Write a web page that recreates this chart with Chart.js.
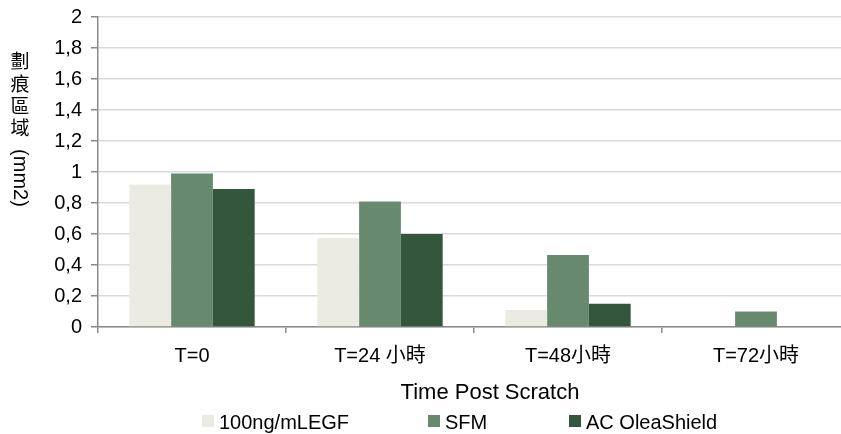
<!DOCTYPE html>
<html>
<head>
<meta charset="utf-8">
<script src="https://cdn.jsdelivr.net/npm/chart.js@4"></script>
<style>
    html, body { margin: 0; padding: 0; background: #fff; overflow: hidden; }
    .wrap { position: relative; width: 850px; height: 434px; }
    .legend { position: absolute; top: 410px; left: 0; font: 20px "Liberation Sans", Arial, sans-serif; color: #000; line-height: 24px; }
    .legend span.item { position: absolute; white-space: nowrap; display: flex; align-items: center; }
    .legend i { display: inline-block; width: 12px; height: 12px; margin-right: 5px; margin-top: -2px; }
</style>
</head>
<body>
<div class="wrap">
    <canvas id="woundChart" width="850" height="434"></canvas>
    <div class="legend" id="legend"></div>
</div>
<script>
// Data
const categories = ['T=0', 'T=24 小時', 'T=48小時', 'T=72小時'];
const seriesNames = ['100ng/mLEGF', 'SFM', 'AC OleaShield'];
const egfValues = [0.92, 0.575, 0.11, 0.005];
const sfmValues = [0.99, 0.81, 0.465, 0.10];
const oleaValues = [0.89, 0.60, 0.15, 0.005];
const yTickLabels = ['0', '0,2', '0,4', '0,6', '0,8', '1', '1,2', '1,4', '1,6', '1,8', '2'];
const seriesColors = ['#ecebe3', '#678a6e', '#34573b'];

const FONT = '"Liberation Sans", Arial, "Noto Sans CJK TC", sans-serif';

// Axis titles: CJK upright, "(mm2)" turned clockwise, like the source
const axisTitlePlugin = {
    id: 'axisTitles',
    afterDraw(chart) {
        const ctx = chart.ctx;
        ctx.save();
        ctx.fillStyle = '#000';
        ctx.font = '19px ' + FONT;
        ctx.textAlign = 'center';
        ctx.textBaseline = 'middle';
        const chars = ['劃', '痕', '區', '域'];
        const ys = [63, 86, 108, 130];
        chars.forEach((c, i) => ctx.fillText(c, 20, ys[i]));

        // x title
        ctx.font = '22px ' + FONT;
        ctx.fillText('Time Post Scratch', 490, 393);

        ctx.font = '20px ' + FONT;
        ctx.translate(20, 178);
        ctx.rotate(Math.PI / 2);
        ctx.fillText('(mm2)', 0, 0);
        ctx.restore();
    }
};

const ctx = document.getElementById('woundChart').getContext('2d');

new Chart(ctx, {
    type: 'bar',
    data: {
        labels: categories,
        datasets: [
            { label: seriesNames[0], data: egfValues, backgroundColor: seriesColors[0] },
            { label: seriesNames[1], data: sfmValues, backgroundColor: seriesColors[1] },
            { label: seriesNames[2], data: oleaValues, backgroundColor: seriesColors[2] }
        ]
    },
    options: {
        responsive: false,
        animation: false,
        layout: { padding: { top: 17, right: 0, bottom: 0, left: 0 } },
        datasets: {
            bar: { categoryPercentage: 0.667, barPercentage: 1, borderWidth: 0 }
        },
        scales: {
            x: {
                afterFit: s => { s.height = 107; },
                grid: {
                    offset: true,
                    drawOnChartArea: false,
                    tickLength: 6,
                    color: '#8a8a8a',
                    lineWidth: 1.5
                },
                border: { color: '#8a8a8a', width: 1.5 },
                ticks: {
                    color: '#000',
                    padding: 11,
                    font: { family: FONT, size: 20 }
                }
            },
            y: {
                min: 0,
                max: 2,
                afterFit: s => { s.width = 98; s.paddingTop = 0; },
                grid: {
                    color: '#dadada',
                    lineWidth: 1.5,
                    tickColor: '#8a8a8a',
                    tickLength: 7
                },
                border: { color: '#8a8a8a', width: 1.5 },
                ticks: {
                    stepSize: 0.2,
                    color: '#000',
                    padding: 9,
                    font: { family: FONT, size: 20 },
                    callback: (v, i) => yTickLabels[i]
                }
            }
        },
        plugins: {
            legend: { display: false },
            tooltip: { enabled: false }
        }
    },
    plugins: [axisTitlePlugin]
});

// HTML legend built from the series names and colours
const legendLeft = [202, 428, 569];
const legend = document.getElementById('legend');
seriesNames.forEach((name, i) => {
    const item = document.createElement('span');
    item.className = 'item';
    item.style.left = legendLeft[i] + 'px';
    item.innerHTML = '<i style="background:' + seriesColors[i] + '"></i>' + name;
    legend.appendChild(item);
});
</script>
</body>
</html>
